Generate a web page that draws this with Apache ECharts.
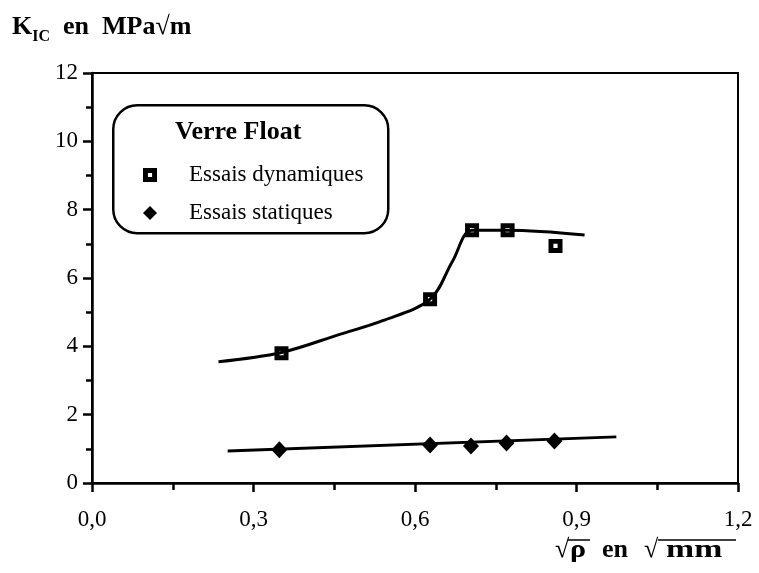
<!DOCTYPE html>
<html>
<head>
<meta charset="utf-8">
<script src="https://cdn.jsdelivr.net/npm/echarts@6/dist/echarts.min.js"></script>
<style>
  html, body { margin: 0; padding: 0; background: #fff; }
  #main { width: 759px; height: 573px; }
</style>
</head>
<body>
<div id="main"></div>
<script>
// valeurs
const dynX = [0.352, 0.628, 0.706, 0.772, 0.861];
const dynY = [3.80, 5.38, 7.40, 7.40, 6.94];
const statX = [0.348, 0.628, 0.704, 0.770, 0.859];
const statY = [0.97, 1.11, 1.08, 1.17, 1.23];
// courbes tracées à la main
const dynCurveX = [0.235, 0.352, 0.46, 0.54, 0.628, 0.67, 0.706, 0.772, 0.915];
const dynCurveY = [3.55, 3.82, 4.35, 4.75, 5.38, 6.5, 7.40, 7.40, 7.26];
const statCurveX = [0.252, 0.974];
const statCurveY = [0.94, 1.35];
const yTicks = [0, 2, 4, 6, 8, 10, 12];
const xTicks = [0, 0.3, 0.6, 0.9, 1.2];

const serif = '"Liberation Serif", "DejaVu Serif", serif';
const squareIcon = 'path://M0,0H10V10H0Z M3.5,3.5V6.5H6.5V3.5Z';

function pairs(xs, ys) {
  return xs.map((x, i) => [x, ys[i]]);
}

const chart = echarts.init(document.getElementById('main'));
chart.setOption({
  animation: false,
  backgroundColor: '#fff',
  grid: {
    left: 92, right: 21, top: 73, bottom: 90,
    show: true, borderColor: '#000', borderWidth: 2
  },
  legend: {
    data: ['Essais dynamiques', 'Essais statiques'],
    orient: 'vertical',
    left: 138, top: 158,
    itemWidth: 14, itemHeight: 14,
    itemGap: 14,
    textStyle: { fontFamily: serif, fontSize: 23, color: '#000', lineHeight: 24, padding: [0, 0, 0, 27] }
  },
  xAxis: {
    type: 'value', min: 0, max: 1.2, interval: 0.3,
    axisLine: { lineStyle: { color: '#000', width: 2.5 } },
    axisTick: { show: true, length: 9, lineStyle: { color: '#000', width: 2.5 } },
    minorTick: { show: true, splitNumber: 2, length: 7, lineStyle: { color: '#000', width: 2.5 } },
    splitLine: { show: false },
    axisLabel: {
      margin: 25, color: '#000', fontFamily: serif, fontSize: 23,
      formatter: v => xTicks.includes(Math.round(v * 10) / 10) ? (Math.round(v * 10) / 10).toFixed(1).replace('.', ',') : ''
    }
  },
  yAxis: {
    type: 'value', min: 0, max: 12, interval: 2,
    axisLine: { lineStyle: { color: '#000', width: 2.5 } },
    axisTick: { show: true, length: 9, lineStyle: { color: '#000', width: 2.5 } },
    minorTick: { show: true, splitNumber: 2, length: 6, lineStyle: { color: '#000', width: 2.5 } },
    splitLine: { show: false },
    axisLabel: {
      margin: 14, color: '#000', fontFamily: serif, fontSize: 23,
      formatter: v => yTicks.includes(v) ? String(v) : ''
    }
  },
  graphic: [
    {
      type: 'rect', left: 112, top: 104, z: 10,
      shape: { width: 275, height: 128, r: 24 },
      style: { fill: 'rgba(0,0,0,0)', stroke: '#000', lineWidth: 2.5 }
    },
    {
      type: 'text', left: 175, top: 119, z: 10,
      style: { text: 'Verre Float', font: 'bold 26px ' + serif, fill: '#000' }
    },
    {
      type: 'text', left: 12, top: 14, z: 10,
      style: {
        text: '{k|K}{s|IC}{k|  en  MPa√m}',
        rich: {
          k: { font: 'bold 26px ' + serif, fill: '#000', verticalAlign: 'bottom' },
          s: { font: 'bold 16px ' + serif, fill: '#000', verticalAlign: 'bottom', padding: [0, 0, -5, 0] }
        }
      }
    },
    {
      type: 'text', x: 555, y: 537, z: 10,
      style: { text: '√', font: 'bold 26px ' + serif, fill: '#000' }
    },
    {
      type: 'text', x: 570, y: 537, scaleX: 1.15, z: 10,
      style: { text: 'ρ', font: 'bold 26px ' + serif, fill: '#000' }
    },
    {
      type: 'text', x: 602, y: 537, z: 10,
      style: { text: 'en', font: 'bold 26px ' + serif, fill: '#000' }
    },
    {
      type: 'text', x: 644, y: 537, z: 10,
      style: { text: '√', font: 'bold 26px ' + serif, fill: '#000' }
    },
    {
      type: 'text', x: 666, y: 537, scaleX: 1.3, z: 10,
      style: { text: 'mm', font: 'bold 26px ' + serif, fill: '#000' }
    },
    {
      type: 'line', z: 10,
      shape: { x1: 568, y1: 540, x2: 590, y2: 540 },
      style: { stroke: '#000', lineWidth: 1.5 }
    },
    {
      type: 'line', z: 10,
      shape: { x1: 658, y1: 540, x2: 736, y2: 540 },
      style: { stroke: '#000', lineWidth: 1.5 }
    }
  ],
  series: [
    {
      name: 'courbe dynamique', type: 'line', data: pairs(dynCurveX, dynCurveY),
      smooth: 0.35, showSymbol: false, symbol: 'none',
      lineStyle: { color: '#000', width: 3 }, z: 2
    },
    {
      name: 'courbe statique', type: 'line', data: pairs(statCurveX, statCurveY),
      showSymbol: false, symbol: 'none',
      lineStyle: { color: '#000', width: 3 }, z: 2
    },
    {
      name: 'Essais dynamiques', type: 'scatter', data: pairs(dynX, dynY),
      symbol: squareIcon, symbolSize: 14,
      itemStyle: { color: '#000', opacity: 1 }, z: 3
    },
    {
      name: 'Essais statiques', type: 'scatter', data: pairs(statX, statY),
      symbol: 'diamond', symbolSize: [16, 17],
      itemStyle: { color: '#000', opacity: 1 }, z: 3
    }
  ]
});
</script>
</body>
</html>
